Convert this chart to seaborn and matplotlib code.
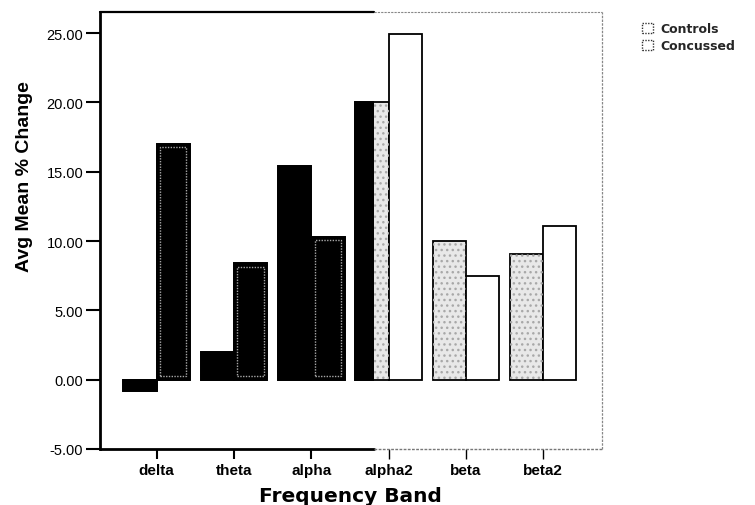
import pandas as pd
import matplotlib
matplotlib.use('Agg')
import matplotlib.pyplot as plt
import seaborn as sns
from matplotlib.patches import Rectangle, Patch

bands = ['delta', 'theta', 'alpha', 'alpha2', 'beta', 'beta2']
groups = ['Controls', 'Concussed']
controls = [-0.8, 2.0, 15.4, 20.0, 10.0, 9.1]
concussed = [17.0, 8.4, 10.3, 24.9, 7.5, 11.1]
yticks = [-5, 0, 5, 10, 15, 20, 25]

# the scan is dark left of this x position, light to the right
SPLIT = 2.81
XLIM = (-0.733, 5.757)
YLIM = (-5, 26.5)

df = pd.DataFrame({
    'band': bands * 2,
    'group': [groups[0]] * len(bands) + [groups[1]] * len(bands),
    'value': controls + concussed,
})

sns.set_theme(style='white')
plt.rcParams['font.family'] = ['Liberation Sans', 'DejaVu Sans']

fig = plt.figure(figsize=(7.55, 5.06), dpi=100)
ax = fig.add_axes([0.1325, 0.1107, 0.6645, 0.863])


def is_concussed(p):
    # concussed bars sit right of the category centre
    return (p.get_x() + p.get_width() / 2) % 1 < 0.5


# light layer (right side of the scan)
sns.barplot(data=df, x='band', y='value', hue='group', order=bands, hue_order=groups,
            palette=['#e8e8e8', 'white'], width=0.86, edgecolor='black', linewidth=1.3,
            errorbar=None, legend=False, ax=ax, zorder=2)

# stipple on the light controls bars
for p in list(ax.patches):
    if not is_concussed(p):
        ax.add_patch(Rectangle((p.get_x(), p.get_y()), p.get_width(), p.get_height(),
                               fill=False, edgecolor='#a8a8a8', lw=0, hatch='...', zorder=2.5))

# dark layer, clipped to the left part
n0 = len(ax.patches)
sns.barplot(data=df, x='band', y='value', hue='group', order=bands, hue_order=groups,
            palette=['black', 'black'], width=0.86, edgecolor='black', linewidth=1.3,
            errorbar=None, legend=False, ax=ax, zorder=3)
clip = Rectangle((XLIM[0], YLIM[0]), SPLIT - XLIM[0], YLIM[1] - YLIM[0], transform=ax.transData)
for p in ax.patches[n0:]:
    p.set_clip_path(clip)
    if is_concussed(p) and p.get_x() + p.get_width() < SPLIT:
        ax.add_patch(Rectangle((p.get_x() + 0.045, p.get_y() + 0.25),
                               p.get_width() - 0.09, p.get_height() - 0.5,
                               fill=False, edgecolor='#a8a8a8', lw=1.0, ls=(0, (1, 1)), zorder=3.5))

ax.set_xlim(XLIM)
ax.set_ylim(YLIM)
ax.set_yticks(yticks)
ax.set_yticklabels([f'{v:.2f}' for v in yticks])

# frame: dark on the left, faint dotted on the right
for s in ['top', 'bottom', 'right']:
    ax.spines[s].set_visible(False)
ax.spines['left'].set_color('black')
ax.spines['left'].set_linewidth(2)
frac = (SPLIT - XLIM[0]) / (XLIM[1] - XLIM[0])
ax.plot([0, frac], [0, 0], transform=ax.transAxes, color='black', lw=2, clip_on=False, zorder=5)
ax.plot([frac, 1], [0, 0], transform=ax.transAxes, color='#777777', lw=1, ls=(0, (2, 1)), clip_on=False, zorder=5)
ax.plot([0, frac], [1, 1], transform=ax.transAxes, color='black', lw=1.6, clip_on=False, zorder=5)
ax.plot([frac, 1], [1, 1], transform=ax.transAxes, color='#888888', lw=0.8, ls=(0, (2, 1)), clip_on=False, zorder=5)
ax.plot([1, 1], [0, 1], transform=ax.transAxes, color='#888888', lw=0.9, ls=(0, (2, 1)), clip_on=False, zorder=5)

ax.tick_params(axis='y', left=True, direction='out', length=10, width=1.5, color='black',
               pad=2, labelsize=10.5, labelcolor='black')
ax.tick_params(axis='x', bottom=True, direction='out', length=7, width=1.5, color='black',
               pad=3, labelsize=11, labelcolor='black')
for i, t in enumerate(ax.xaxis.get_major_ticks()):
    if i >= 3:
        t.tick1line.set_color('#777777')
        t.tick1line.set_markeredgewidth(1)
for lbl in ax.get_xticklabels():
    lbl.set_fontweight('bold')

ax.set_xlabel('Frequency Band', fontfamily='DejaVu Sans', fontweight='bold', fontsize=14.5, color='black')
ax.xaxis.set_label_coords(0.5, -0.1076)
ax.xaxis.label.set_va('center')
ax.set_ylabel('Avg Mean % Change', fontweight='bold', fontsize=14, color='black')
ax.yaxis.set_label_coords(-0.151, 0.625)
ax.yaxis.label.set_va('center')

handles = [Patch(facecolor='white', edgecolor='#333333', lw=1, ls=(0, (1, 1))) for _ in groups]
fig.legend(handles=handles, labels=groups, loc='upper left', bbox_to_anchor=(0.836, 0.976),
           frameon=False, handlelength=0.85, handleheight=0.85, handletextpad=0.6,
           labelspacing=0.3, prop=dict(family='DejaVu Sans', weight='bold', size=9))

fig.savefig('out.png', dpi=100)
